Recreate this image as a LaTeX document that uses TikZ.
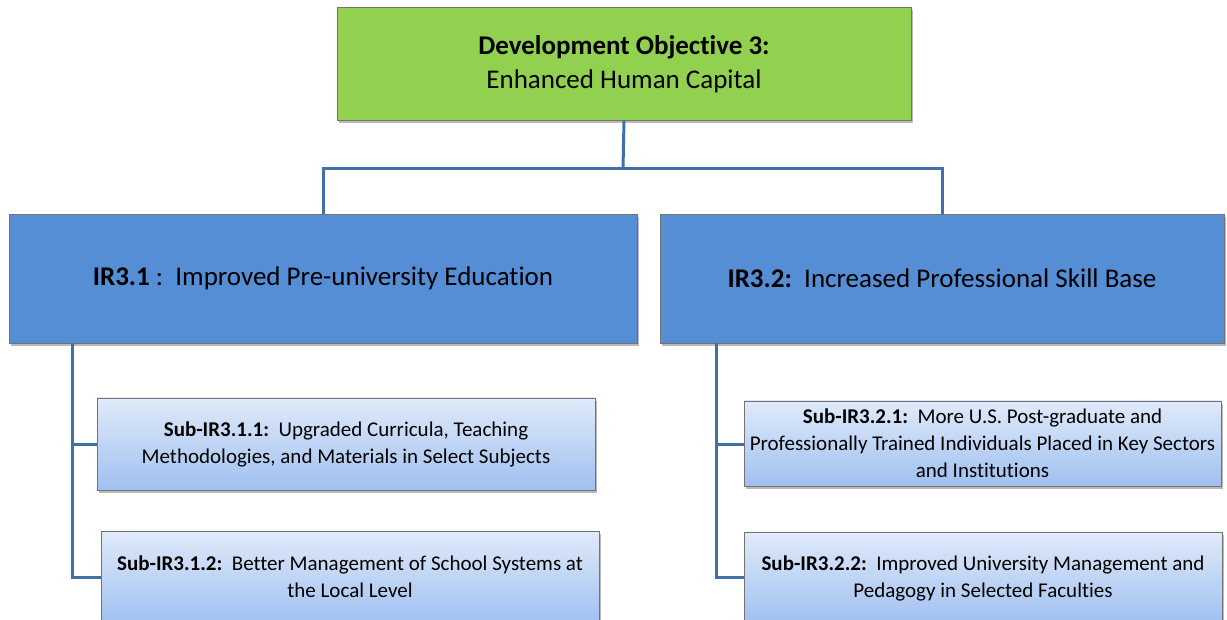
\documentclass[tikz,border=0pt]{standalone}
\usepackage{fontspec}
\setmainfont{Carlito}[Ligatures=NoCommon]
\usetikzlibrary{shadows}
\definecolor{topgreen}{RGB}{146,208,80}
\definecolor{irblue}{RGB}{85,142,213}
\definecolor{linkblue}{RGB}{65,112,165}
\definecolor{subtop}{RGB}{224,234,250}
\definecolor{subbot}{RGB}{160,192,240}
\tikzset{
  box/.style={rectangle, draw=black!55, line width=0.6pt, align=center, inner sep=2pt,
    drop shadow={shadow xshift=2pt, shadow yshift=-3pt, opacity=0.45, fill=black!60}},
  topbox/.style={box, fill=topgreen, font=\fontsize{27}{34}\selectfont},
  irbox/.style={box, fill=irblue, font=\fontsize{27}{33}\selectfont},
  subbox/.style={box, top color=subtop, bottom color=subbot, font=\fontsize{21}{27}\selectfont},
  link/.style={draw=linkblue, line width=3pt}
}
\begin{document}
\begin{tikzpicture}[x=1pt,y=-1pt]
\useasboundingbox (0,0) rectangle (1227,620);
\node[topbox, minimum width=574pt, minimum height=113pt] (top) at (624,64)
  {\textbf{Development Objective 3:}\\Enhanced Human Capital};
\node[irbox, minimum width=628pt, minimum height=129pt] (ir1) at (323,278.5)
  {\textbf{IR3.1} :\ \ Improved Pre-university Education};
\node[irbox, minimum width=564pt, minimum height=129pt] (ir2) at (942,278.5)
  {\textbf{IR3.2:}\ \ Increased Professional Skill Base};
\node[subbox, minimum width=498pt, minimum height=92pt] (s11) at (346,444)
  {\textbf{Sub-IR3.1.1:}\ \ Upgraded Curricula, Teaching\\Methodologies, and Materials in Select Subjects};
\node[subbox, minimum width=498pt, minimum height=92pt] (s12) at (350,577)
  {\textbf{Sub-IR3.1.2:}\ \ Better Management of School Systems at\\the Local Level};
\node[subbox, minimum width=477pt, minimum height=85pt] (s21) at (982.5,443.5)
  {\textbf{Sub-IR3.2.1:}\ \ More U.S. Post-graduate and\\Professionally Trained Individuals Placed in Key Sectors\\and Institutions};
\node[subbox, minimum width=478pt, minimum height=92pt] (s22) at (983,578)
  {\textbf{Sub-IR3.2.2:}\ \ Improved University Management and\\Pedagogy in Selected Faculties};
\coordinate (j) at (623,169);
\coordinate (l1) at (72,444);
\coordinate (l2) at (72,577);
\coordinate (r1) at (716,444);
\coordinate (r2) at (716,577);
\draw[link] (top.south) -- (j);
\draw[link] (j) -| (ir1.north);
\draw[link] (j) -| (ir2.north);
\draw[link] (ir1.south -| l1) -- (l2) -- (s12.west |- l2);
\draw[link] (l1) -- (s11.west);
\draw[link] (ir2.south -| r1) -- (r2) -- (s22.west |- r2);
\draw[link] (r1) -- (s21.west |- r1);
\end{tikzpicture}
\end{document}
